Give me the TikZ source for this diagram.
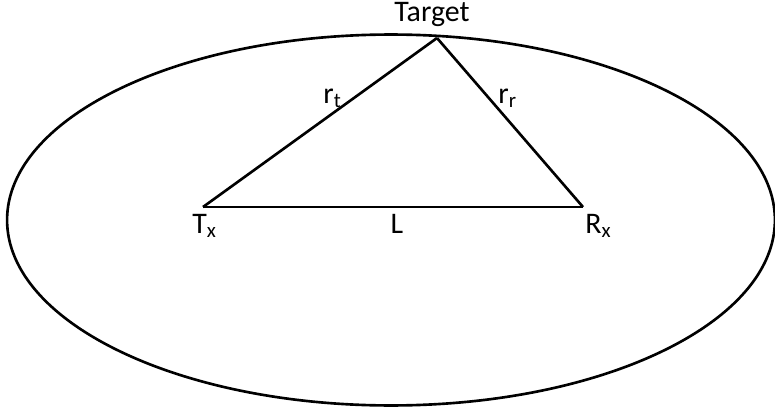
\documentclass[tikz,border=0pt]{standalone}
\usepackage{fontspec}
\setmainfont{Carlito}
\usetikzlibrary{positioning}

\begin{document}
\begin{tikzpicture}[x=0.02cm, y=-0.02cm,
    edge/.style={line width=1.5pt, black},
    lbl/.style={inner sep=0pt, anchor=base west, font=\fontsize{17}{20}\selectfont}
  ]
    \useasboundingbox (0,0) rectangle (775,409);

    % ellipse round the triangle
    \draw[edge] (391,220) ellipse [x radius=7.68cm, y radius=3.71cm];

    \coordinate (tgt) at (437,38);
    \coordinate (tx) at (203,207);
    \coordinate (rx) at (583,207);

    \node[lbl, anchor=base] (tgtl) at (432,21) {Target};
    \node[lbl] (rtl) at (323,103) {r\textsubscript{t}};
    \node[lbl] (rrl) at (498,103) {r\textsubscript{r}};
    \node[lbl] (txl) at (192,233) {T\textsubscript{x}};
    \node[lbl, anchor=base] (ll) at (397,233) {L};
    \node[lbl] (rxl) at (585,233) {R\textsubscript{x}};

    \draw[edge] (tx) -- (tgt);
    \draw[edge] (tgt) -- (rx);
    \draw[edge] (tx) -- (rx);
  \end{tikzpicture}
\end{document}
